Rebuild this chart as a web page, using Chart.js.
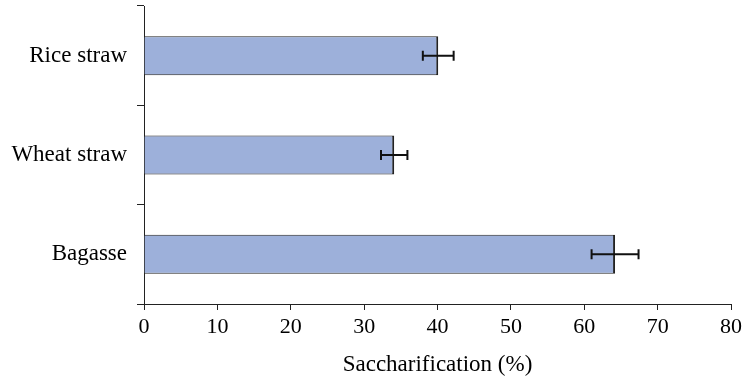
<!DOCTYPE html>
<html>
<head>
<meta charset="utf-8">
<script src="https://cdn.jsdelivr.net/npm/chart.js@4/dist/chart.umd.min.js"></script>
<style>
  html, body { margin: 0; padding: 0; background: #ffffff; }
  #wrap { width: 746px; height: 385px; }
</style>
</head>
<body>
<div id="wrap"><canvas id="chart" width="746" height="385"></canvas></div>
<script>
// Substrates and their saccharification yield (%), with standard deviations
const categories = ['Rice straw', 'Wheat straw', 'Bagasse'];
const saccharification = [40.1, 34.1, 64.2];
const errors = [2.1, 1.8, 3.2];
const xTicks = [0, 10, 20, 30, 40, 50, 60, 70, 80];

const FONT = '"Liberation Serif", "Times New Roman", "DejaVu Serif", serif';

// Draws horizontal error bars with end caps at each bar's value
const errorBarPlugin = {
  id: 'errorBars',
  afterDatasetsDraw(chart) {
    const ctx = chart.ctx;
    const xs = chart.scales.x;
    const ys = chart.scales.y;
    ctx.save();
    ctx.strokeStyle = '#111111';
    ctx.lineWidth = 2;
    saccharification.forEach((v, i) => {
      const y = ys.getPixelForValue(i);
      const x1 = xs.getPixelForValue(v - errors[i]);
      const x2 = xs.getPixelForValue(v + errors[i]);
      ctx.beginPath();
      ctx.moveTo(x1, y);
      ctx.lineTo(x2, y);
      ctx.moveTo(x1, y - 5);
      ctx.lineTo(x1, y + 5);
      ctx.moveTo(x2, y - 5);
      ctx.lineTo(x2, y + 5);
      ctx.stroke();
    });
    ctx.restore();
  }
};

new Chart(document.getElementById('chart'), {
  type: 'bar',
  data: {
    labels: categories,
    datasets: [{
      data: saccharification,
      backgroundColor: '#9db0da',
      borderColor: '#222222',
      borderWidth: { top: 1, bottom: 1, left: 0, right: 2 },
      borderSkipped: 'start',
      categoryPercentage: 1.0,
      barPercentage: 0.393
    }]
  },
  options: {
    indexAxis: 'y',
    responsive: false,
    animation: false,
    devicePixelRatio: 1,
    layout: { padding: { top: 6, right: 15, left: 0, bottom: 0 } },
    plugins: {
      legend: { display: false },
      tooltip: { enabled: false }
    },
    scales: {
      x: {
        type: 'linear',
        min: 0,
        max: 80,
        afterBuildTicks(scale) { scale.ticks = xTicks.map(v => ({ value: v })); },
        afterFit(scale) { scale.height = 81; },
        border: { display: true, color: '#222222', width: 1 },
        grid: { drawOnChartArea: false, drawTicks: true, tickLength: 6, color: '#222222' },
        ticks: { color: '#000000', font: { family: FONT, size: 22 }, padding: 4, maxRotation: 0 },
        title: {
          display: true,
          text: 'Saccharification (%)',
          color: '#000000',
          font: { family: FONT, size: 23 },
          padding: { top: 0, bottom: 6 }
        }
      },
      y: {
        type: 'category',
        afterFit(scale) {
          scale.width = 144;
          scale.paddingTop = 0;
          scale.paddingBottom = 0;
        },
        border: { display: true, color: '#222222', width: 1 },
        grid: { offset: true, drawOnChartArea: false, drawTicks: true, tickLength: 7, color: '#222222' },
        ticks: { color: '#000000', font: { family: FONT, size: 23 }, padding: 10 }
      }
    }
  },
  plugins: [errorBarPlugin]
});
</script>
</body>
</html>
